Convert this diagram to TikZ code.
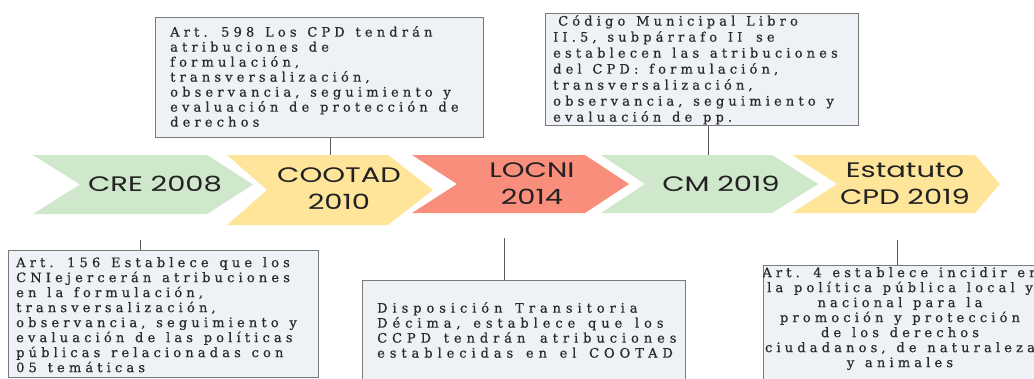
\documentclass[tikz,border=0pt]{standalone}
\usepackage{fontspec}
\newfontfamily\chevfont[FakeStretch=1.38]{Poppins}
\newfontfamily\boxfont[LetterSpace=32,WordSpace=1.3,FakeBold=0.6]{DejaVu Serif}
\newfontfamily\boxfontwide[LetterSpace=38,WordSpace=1.4,FakeBold=0.6]{DejaVu Serif}
\definecolor{cgreen}{HTML}{CFE7CB}
\definecolor{cyellow}{HTML}{FEE599}
\definecolor{cred}{HTML}{F88E7B}
\definecolor{boxfill}{HTML}{EEF1F6}
\definecolor{boxline}{HTML}{7A7A7A}
\definecolor{txt}{HTML}{2A2A2A}
\definecolor{ctxt}{HTML}{222222}
\tikzset{
  infobox/.style={draw=boxline, line width=1pt, fill=boxfill},
  infotext/.style={inner sep=0pt, align=left, font=\boxfont\fontsize{13}{15}\selectfont, text=txt},
  chevtext/.style={font=\chevfont\fontsize{21}{27}\selectfont, text=ctxt, align=center, inner sep=0pt},
  link/.style={draw=black!65, line width=1pt},
}
\newcommand\mychev[7]{%
  \fill[#1] (#2,#6) -- (#4,#6) -- (#5,{(#6+#7)/2}) -- (#4,#7) -- (#2,#7) -- (#3,{(#6+#7)/2}) -- cycle;}
\begin{document}
\begin{tikzpicture}[x=1pt,y=-1pt]
\useasboundingbox (0,0) rectangle (1034,378);
\clip (0,0) rectangle (1034,378);
\fill[white] (0,0) rectangle (1034,378);
% chevrons
\mychev{cgreen}{33}{80}{207}{253}{155}{214}
\mychev{cyellow}{227}{267}{388}{433}{155}{225}
\mychev{cred}{412}{457}{585}{629}{155}{213}
\mychev{cgreen}{601}{645}{772}{818}{155}{213}
\mychev{cyellow}{792}{837}{975}{1000}{155}{213}
% chevron labels
\node[chevtext] (cre) at (155,184) {CRE 2008};
\node[chevtext] (cootad) at (339,189) {COOTAD\\2010};
\node[chevtext] (locni) at (532,184) {LOCNI\\2014};
\node[chevtext] (cm) at (721,184) {CM 2019};
\node[chevtext] (estatuto) at (905,184) {Estatuto\\CPD 2019};
% attachment points
\coordinate (tA) at (330,155);
\coordinate (tB) at (708,155);
\coordinate (bC) at (140,240);
\coordinate (bD) at (504,238);
\coordinate (bE) at (897,240);
% boxes
\node[infobox, anchor=north west, minimum width=328, minimum height=120] (boxA) at (155,17) {};
\node[infobox, anchor=north west, minimum width=313, minimum height=112] (boxB) at (545,13) {};
\node[infobox, anchor=north west, minimum width=310, minimum height=127] (boxC) at (8,250) {};
\node[infobox, anchor=north west, minimum width=323, minimum height=120] (boxD) at (362,280) {};
\node[infobox, anchor=north west, minimum width=290, minimum height=120] (boxE) at (763,265) {};
% connectors
\draw[link] (boxA.south -| tA) -- (tA);
\draw[link] (boxB.south -| tB) -- (tB);
\draw[link] (bC) -- (boxC.north -| bC);
\draw[link] (bD) -- (boxD.north -| bD);
\draw[link] (bE) -- (boxE.north -| bE);
% texts
\node[infotext, anchor=north west] (textA) at (170,26) {Art. 598 Los CPD tendrán\\atribuciones de\\formulación,\\transversalización,\\observancia, seguimiento y\\evaluación de protección de\\derechos};
\node[infotext, anchor=north west, font=\boxfont\fontsize{13}{16}\selectfont] (textB) at (553,15) {\hspace{5pt}Código Municipal Libro\\II.5, subpárrafo II\hspace{3pt} se\\establecen las atribuciones\\del CPD: formulación,\\transversalización,\\observancia, seguimiento y\\evaluación de pp.};
\node[infotext, anchor=north west] (textC) at (16,257) {Art. 156 Establece que los\\CNIejercerán atribuciones\\en la formulación,\\transversalización,\\observancia, seguimiento y\\evaluación de las políticas\\públicas relacionadas con\\05 temáticas};
\node[infotext, anchor=north west, font=\boxfontwide\fontsize{13}{15}\selectfont] (textD) at (377,302) {Disposición Transitoria\\Décima, establece que los\\CCPD tendrán\hspace{2pt} atribuciones\\establecidas en el COOTAD};
\begin{scope}
\clip (boxE.north west) rectangle (boxE.south east);
\node[infotext, align=center, anchor=north] (textE) at (900,267) {Art. 4 establece incidir en\\la política pública local y\\nacional para la\\promoción y protección\\de los derechos\\ciudadanos, de naturaleza\\y animales};
\end{scope}
\end{tikzpicture}
\end{document}
